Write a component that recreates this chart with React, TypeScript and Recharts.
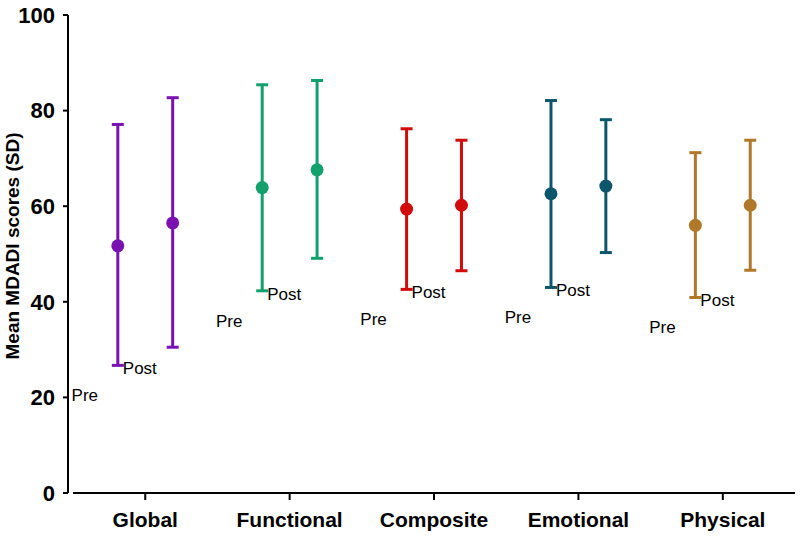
import { ScatterChart, Scatter, XAxis, YAxis, ErrorBar, ReferenceLine } from "recharts";

const categories = ["Global", "Functional", "Composite", "Emotional", "Physical"];

// mean and the ends of the SD bars
const preMean = [51.7, 63.9, 59.4, 62.6, 56.0];
const preLow = [26.7, 42.3, 42.6, 43.0, 40.9];
const preHigh = [77.1, 85.4, 76.2, 82.1, 71.2];
const postMean = [56.5, 67.6, 60.2, 64.2, 60.2];
const postLow = [30.5, 49.1, 46.5, 50.3, 46.6];
const postHigh = [82.7, 86.3, 73.8, 78.1, 73.8];

const yTicks = [0, 20, 40, 60, 80, 100];

const colors = ["#7a12b2", "#12a06c", "#d10a0a", "#0c566b", "#b0792a"];
const GROUP_OFFSET = 0.19;

function groupData(i: number) {
  return [
    {
      x: i - GROUP_OFFSET,
      y: preMean[i],
      err: [preMean[i] - preLow[i], preHigh[i] - preMean[i]],
    },
    {
      x: i + GROUP_OFFSET,
      y: postMean[i],
      err: [postMean[i] - postLow[i], postHigh[i] - postMean[i]],
    },
  ];
}

// the stray "Pre"/"Post" captions sit next to the lower end of the Pre bar
const captionData = categories.map((_, i) => ({ x: i - GROUP_OFFSET, y: preLow[i] }));

function Dot(color: string) {
  return (p: any) => <circle cx={p.cx} cy={p.cy} r={6.5} fill={color} />;
}

function Captions(p: any) {
  return (
    <g fontSize={17} fill="#000">
      <text x={p.cx - 33} y={p.cy + 30} textAnchor="middle" dy="0.35em">
        Pre
      </text>
      <text x={p.cx + 5} y={p.cy + 3} textAnchor="start" dy="0.35em">
        Post
      </text>
    </g>
  );
}

function YLabel(props: any) {
  const { viewBox } = props;
  const cx = viewBox.x + 12;
  const cy = viewBox.y + viewBox.height / 2 - 8;
  return (
    <text
      x={cx}
      y={cy}
      transform={`rotate(-90 ${cx} ${cy})`}
      textAnchor="middle"
      dominantBaseline="central"
      fontSize={19}
      fontWeight="bold"
      fill="#000"
    >
      Mean MDADI scores (SD)
    </text>
  );
}

export default function App() {
  return (
    <div
      style={{
        position: "absolute",
        left: 0,
        top: 0,
        width: 800,
        height: 541,
        background: "#fff",
        fontFamily: "'Liberation Sans', Arial, sans-serif",
      }}
    >
      <ScatterChart width={800} height={541} margin={{ top: 15, right: 5, bottom: 0, left: 0 }}>
        <XAxis
          type="number"
          dataKey="x"
          domain={[-0.535, 4.5]}
          ticks={[0, 1, 2, 3, 4]}
          tickFormatter={(v: number) => categories[v]}
          height={48}
          axisLine={false}
          tickLine={{ stroke: "#000", strokeWidth: 2 }}
          tickSize={7}
          tickMargin={12}
          tick={{ fontSize: 21, fontWeight: "bold", fill: "#000" }}
          interval={0}
        />
        <YAxis
          type="number"
          dataKey="y"
          domain={[0, 100]}
          ticks={yTicks}
          width={68}
          axisLine={{ stroke: "#000", strokeWidth: 2 }}
          tickLine={{ stroke: "#000", strokeWidth: 2 }}
          tickSize={5}
          tickMargin={8}
          tick={{ fontSize: 22, fontWeight: "bold", fill: "#000" }}
          label={{ content: YLabel }}
        />
        <ReferenceLine
          segment={[
            { x: -0.5, y: 0 },
            { x: 4.5, y: 0 },
          ]}
          stroke="#000"
          strokeWidth={2}
          ifOverflow="visible"
        />
        {categories.map((c, i) => (
          <Scatter
            key={c}
            name={c}
            data={groupData(i)}
            dataKey="y"
            fill={colors[i]}
            shape={Dot(colors[i])}
            isAnimationActive={false}
          >
            <ErrorBar
              dataKey="err"
              direction="y"
              width={6}
              strokeWidth={3}
              stroke={colors[i]}
              isAnimationActive={false}
            />
          </Scatter>
        ))}
        <Scatter
          name="captions"
          data={captionData}
          dataKey="y"
          shape={Captions}
          isAnimationActive={false}
        />
      </ScatterChart>
    </div>
  );
}
